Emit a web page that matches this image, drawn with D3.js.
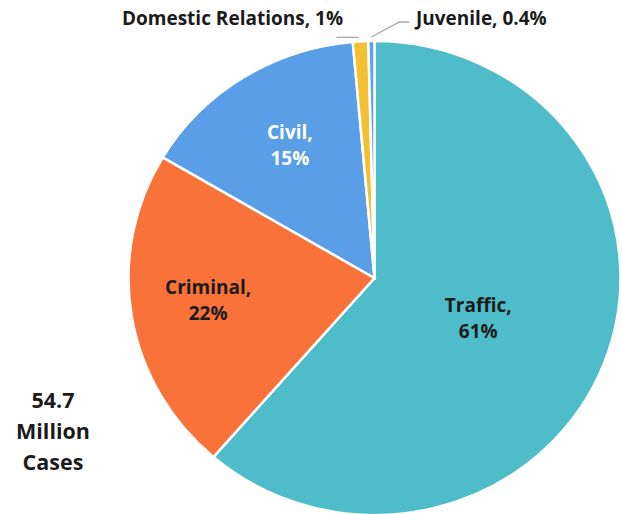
<!DOCTYPE html>
<html>
<head>
<meta charset="utf-8">
<script src="https://cdn.jsdelivr.net/npm/d3@7"></script>
<style>
  html, body { margin: 0; padding: 0; background: #fff; }
  svg { display: block; }
  text { font-family: "Open Sans", "Liberation Sans", sans-serif; font-weight: 700; }
</style>
</head>
<body>
<svg id="chart" width="622" height="514"></svg>
<script>
// Case types and their share of the caseload (percent)
const categories = ["Traffic", "Criminal", "Civil", "Domestic Relations", "Juvenile"];
const shares = [61, 22, 15, 1, 0.4];
const sliceColors = ["#4FBDC9", "#F8723A", "#5A9EE8", "#F3C033", "#5FA3E6"];
const totalLines = ["54.7", "Million", "Cases"];

const svg = d3.select("#chart");
const cx = 374.5, cy = 278, ry = 237, rx = 246;

const data = categories.map((c, i) => ({ name: c, value: shares[i], color: sliceColors[i] }));

const pie = d3.pie().value(d => d.value).sort(null);
const arcs = pie(data);
const arc = d3.arc().innerRadius(0).outerRadius(ry);

// Pie slightly wider than tall
const g = svg.append("g")
  .attr("transform", `translate(${cx},${cy}) scale(${rx / ry},1)`);

g.selectAll("path")
  .data(arcs)
  .join("path")
  .attr("d", arc)
  .attr("fill", d => d.data.color)
  .attr("stroke", "#fff")
  .attr("stroke-width", 2.5)
  .attr("stroke-linejoin", "miter")
  .attr("vector-effect", "non-scaling-stroke");

// Point on the (stretched) pie for a given angle and radius
function onPie(angle, r) {
  return [cx + (rx / ry) * r * Math.sin(angle), cy - r * Math.cos(angle)];
}

const fontSize = 19;
const lineGap = 26;

// Inside labels: name on first line, percentage on second
const insideCfg = {
  "Traffic": { r: 0.45, color: "#1b1b1b", dy: 4 },
  "Criminal": { r: 0.685, color: "#1b1b1b", dy: -3 },
  "Civil": { r: 0.645, color: "#ffffff", dy: -2.5 }
};

arcs.forEach(a => {
  const cfg = insideCfg[a.data.name];
  if (!cfg) return;
  const mid = (a.startAngle + a.endAngle) / 2;
  const [x, y0] = onPie(mid, ry * cfg.r);
  const y = y0 + cfg.dy;
  const t = svg.append("text")
    .attr("text-anchor", "middle")
    .attr("fill", cfg.color)
    .attr("font-size", fontSize);
  t.append("tspan").attr("x", x).attr("y", y - lineGap / 2 + 6).text(a.data.name + ",");
  t.append("tspan").attr("x", x).attr("y", y + lineGap / 2 + 6).text(a.data.value + "%");
});

// Outside labels for the two thin slices, with leader lines
const dom = arcs[3], juv = arcs[4];
const domTop = onPie((dom.startAngle + dom.endAngle) / 2, ry + 2);
const juvTop = onPie((juv.startAngle + juv.endAngle) / 2, ry + 2);

const leaders = svg.append("g")
  .attr("fill", "none")
  .attr("stroke", "#A6A6A6")
  .attr("stroke-width", 1.3);

leaders.append("polyline")
  .attr("points", [[domTop[0] - 2, domTop[1] - 2], [domTop[0] - 24, domTop[1] - 2]].map(p => p.join(",")).join(" "));

leaders.append("polyline")
  .attr("points", [[juvTop[0], juvTop[1] - 2], [juvTop[0] + 28, 22], [juvTop[0] + 38, 22]].map(p => p.join(",")).join(" "));

svg.append("text")
  .attr("x", 343).attr("y", 25)
  .attr("text-anchor", "end")
  .attr("font-size", fontSize)
  .attr("fill", "#1b1b1b")
  .text(`${dom.data.name}, ${dom.data.value}%`);

svg.append("text")
  .attr("x", 416).attr("y", 25)
  .attr("text-anchor", "start")
  .attr("font-size", fontSize)
  .attr("fill", "#1b1b1b")
  .text(`${juv.data.name}, ${juv.data.value}%`);

// Total caseload note
const tot = svg.append("text")
  .attr("text-anchor", "middle")
  .attr("font-size", 21.5)
  .attr("fill", "#1b1b1b");
totalLines.forEach((line, i) => {
  tot.append("tspan").attr("x", 53).attr("y", 408 + i * 31).text(line);
});
</script>
</body>
</html>
